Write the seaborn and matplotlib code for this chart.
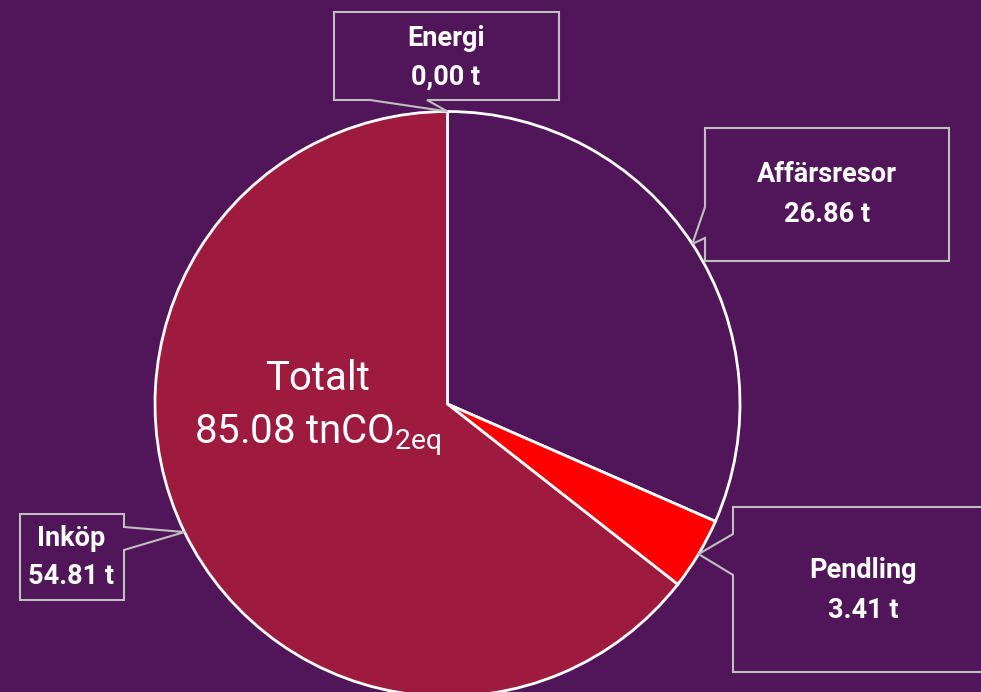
import numpy as np
import matplotlib
matplotlib.use("Agg")
import matplotlib.pyplot as plt
from matplotlib.patches import Polygon
import seaborn as sns

# data
categories = ["Energi", "Affärsresor", "Pendling", "Inköp"]
values = [0.00, 26.86, 3.41, 54.81]
slice_colors = ["#9E1A3F", "#511659", "#FF0000", "#9E1A3F"]

BG = "#511659"
EDGE = "#BFBFBF"
W, H = 981, 692

sns.set_theme(style="white")
plt.rcParams["font.family"] = ["Roboto", "DejaVu Sans"]
plt.rcParams["mathtext.fontset"] = "custom"
plt.rcParams["mathtext.rm"] = "Roboto"
plt.rcParams["mathtext.it"] = "Roboto"

fig = plt.figure(figsize=(W / 100, H / 100), dpi=100)
fig.patch.set_facecolor(BG)
ax = fig.add_axes([0, 0, 1, 1])
ax.set_facecolor(BG)

cx, cy, r = 447.5, H - 404, 292.5
ax.pie(values, colors=slice_colors, startangle=90, counterclock=False,
       center=(cx, cy), radius=r,
       wedgeprops=dict(edgecolor="white", linewidth=2))
ax.set_xlim(0, W)
ax.set_ylim(0, H)
ax.set_aspect("equal")
ax.axis("off")

# tip of each callout = pie edge at the slice mid angle
total = sum(values)
ends = 90 - np.cumsum(values) / total * 360
mids = ends + np.array(values) / total * 360 / 2
tips = [(cx + r * np.cos(np.radians(a)), cy + r * np.sin(np.radians(a))) for a in mids]


def callout(box, side, base, tip):
    x0, y0, x1, y1 = box  # pixel coords, y down
    b1, b2 = base
    if side == "left":
        pts = [(x0, y0), (x1, y0), (x1, y1), (x0, y1), (x0, b2), None, (x0, b1)]
    elif side == "right":
        pts = [(x0, y0), (x1, y0), (x1, b1), None, (x1, b2), (x1, y1), (x0, y1)]
    else:  # bottom
        pts = [(x0, y0), (x1, y0), (x1, y1), (b2, y1), None, (b1, y1), (x0, y1)]
    verts = [tip if p is None else (p[0], H - p[1]) for p in pts]
    ax.add_patch(Polygon(verts, closed=True, facecolor=BG, edgecolor=EDGE,
                         linewidth=1.5, zorder=5))


value_text = [f"{v:.2f} t" for v in values]
value_text[0] = value_text[0].replace(".", ",")  # shown with a comma in the source

layout = [
    dict(box=(334, 12, 559, 100), side="bottom", base=(370, 427), text=(446, 38, 77)),
    dict(box=(705, 128, 949, 261), side="left", base=(207, 238), text=(827, 175, 215)),
    dict(box=(733, 507, 995, 672), side="left", base=(534, 575), text=(863, 570, 610)),
    dict(box=(20, 514, 124, 600), side="right", base=(527, 550), text=(71, 538, 577)),
]

for cat, vt, tip, lay in zip(categories, value_text, tips, layout):
    callout(lay["box"], lay["side"], lay["base"], tip)
    tx, ty1, ty2 = lay["text"]
    ax.text(tx, H - ty1, cat, color="white", fontsize=19.5, fontweight="bold",
            ha="center", va="center", zorder=6)
    ax.text(tx, H - ty2, vt, color="white", fontsize=19.5, fontweight="bold",
            ha="center", va="center", zorder=6)

ax.text(318, H - 378, "Totalt", color="white", fontsize=29,
        ha="center", va="center", zorder=6)
ax.text(318, H - 435, f"{total:.2f} tnCO" + r"$_{\mathrm{2eq}}$", color="white",
        fontsize=29, ha="center", va="center", zorder=6)

fig.savefig("out.png", dpi=100, facecolor=BG)
